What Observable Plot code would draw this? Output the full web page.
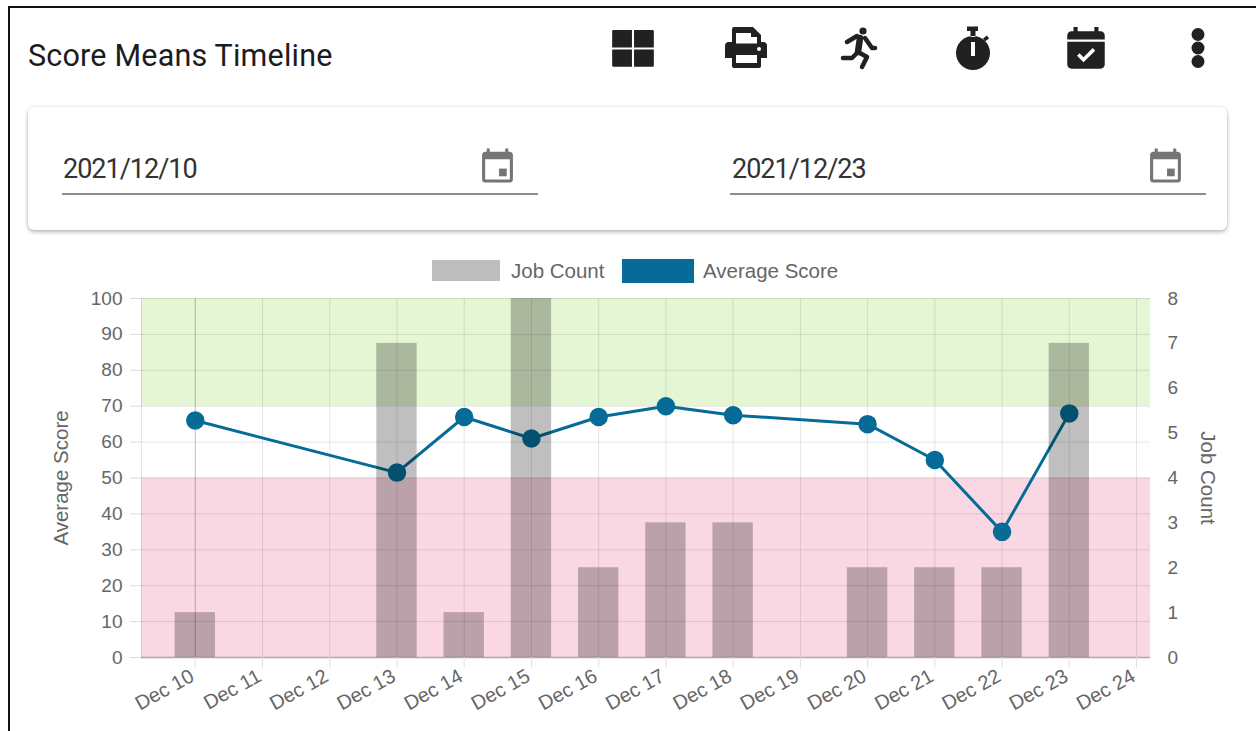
<!DOCTYPE html>
<html>
<head>
<meta charset="utf-8">
<script src="https://cdn.jsdelivr.net/npm/d3@7"></script>
<script src="https://cdn.jsdelivr.net/npm/@observablehq/plot@0.6"></script>
<style>
html,body{margin:0;padding:0;background:#fff;width:1256px;height:731px;overflow:hidden}
body{position:relative;font-family:Roboto,sans-serif;color:#1c1c1c}
#frame{position:absolute;left:8px;top:6px;right:-4px;bottom:-4px;border:2px solid #111;box-sizing:border-box}
#title{position:absolute;left:28px;top:38px;font-size:30.5px;letter-spacing:.2px;line-height:36px;white-space:nowrap}
.ico{position:absolute;display:block}
#card{position:absolute;left:28px;top:107px;width:1199px;height:123px;border-radius:6px;background:#fff;box-shadow:0 2px 4px rgba(0,0,0,.28),0 0 3px rgba(0,0,0,.08)}
.date{position:absolute;top:151px;font-size:27px;letter-spacing:-1px;line-height:36px;color:#333}
.ul{position:absolute;top:193px;height:1.5px;width:476px;background:#8d8d8d}
#legend{position:absolute;top:258px;left:0;height:26px;font:20.5px "Liberation Sans",Arial,sans-serif;color:#666}
#legend span{position:absolute;white-space:nowrap;line-height:26px}
#legend i{position:absolute;display:block}
#chart{position:absolute;left:0;top:285px}
svg text{font-family:"Liberation Sans",Arial,sans-serif}
</style>
</head>
<body>
<div id="frame"></div>
<div id="title">Score Means Timeline</div>

<svg class="ico" style="left:608px;top:23px" width="50" height="50" viewBox="0 0 24 24" fill="#212121"><path d="M2 4a.6.6 0 0 1 .6-.6H11.500V11.700H2zM12.500 3.400H21.400a.6.6 0 0 1 .6.6V11.700H12.500zM2 12.700H11.500V21H2.600a.6.6 0 0 1-.6-.6zM12.500 12.700H22V20.400a.6.6 0 0 1-.6.6H12.500z"/></svg>
<svg class="ico" style="left:721px;top:23px" width="50" height="50" viewBox="0 0 50 50" fill="#212121"><path fill-rule="evenodd" d="M13 4H32L40 12V19H42Q46 19 46 23V35H40V43Q40 45 38 45H13Q11 45 11 43V35H4V23Q4 19 8 19H11V6Q11 4 13 4ZM15 10V20.500H36V14H30V10ZM15 32V40H36V32ZM36 26a2 2 0 1 0 4 0a2 2 0 1 0-4 0Z"/></svg>
<svg class="ico" style="left:834px;top:23px" width="50" height="50" viewBox="0 0 50 50" fill="none" stroke="#212121" stroke-linecap="round" stroke-linejoin="round"><circle cx="29" cy="8" r="3.600" fill="#212121" stroke="none"/><path stroke-width="4.500" d="M13 19L23 13M31 15L38 25H41M24 29L18 35H9M24 29L33 34L28 44"/><path stroke-width="6.500" d="M26 15L24 29"/></svg>
<svg class="ico" style="left:947px;top:23px" width="50" height="50" viewBox="0 0 50 50" fill="#212121"><path fill-rule="evenodd" d="M20 3.500H31V8H28.500V14H23.500V8H20ZM9 30a17 17 0 1 0 34 0a17 17 0 1 0-34 0ZM24 19H28V33H24Z"/><path d="M37 17L41 14" stroke="#212121" stroke-width="3.500"/></svg>
<svg class="ico" style="left:1061px;top:25px" width="50" height="50" viewBox="0 0 24 24" fill="#212121"><path d="M19 3h-1V1h-2v2H8V1H6v2H5c-1.100 0-2 .9-2 2v2h18V5c0-1.100-.9-2-2-2zM3 8v11c0 1.100.9 2 2 2h14c1.100 0 2-.9 2-2V8z"/><path d="M8.300 14.200l2.500 2.500 5-5" fill="none" stroke="#fff" stroke-width="1.700"/></svg>
<svg class="ico" style="left:1173px;top:23px" width="50" height="50" viewBox="0 0 50 50" fill="#212121"><circle cx="25" cy="11.500" r="6.500"/><circle cx="25" cy="25" r="6.500"/><circle cx="25" cy="38.500" r="6.500"/></svg>

<div id="card"></div>
<div class="date" style="left:63px">2021/12/10</div>
<div class="date" style="left:732px">2021/12/23</div>
<svg class="ico" style="left:479px;top:147px" width="37" height="37" viewBox="0 0 24 24" fill="#757575"><path d="M20 3h-1V1h-2v2H7V1H5v2H4c-1.100 0-2 .9-2 2v16c0 1.100.9 2 2 2h16c1.100 0 2-.9 2-2V5c0-1.100-.9-2-2-2zm0 18H4V8h16v13z"/><path d="M13 14h5v5h-5z"/></svg>
<svg class="ico" style="left:1147px;top:147px" width="37" height="37" viewBox="0 0 24 24" fill="#757575"><path d="M20 3h-1V1h-2v2H7V1H5v2H4c-1.100 0-2 .9-2 2v16c0 1.100.9 2 2 2h16c1.100 0 2-.9 2-2V5c0-1.100-.9-2-2-2zm0 18H4V8h16v13z"/><path d="M13 14h5v5h-5z"/></svg>
<div class="ul" style="left:62px"></div>
<div class="ul" style="left:730px"></div>

<div id="legend">
  <i style="left:432px;top:2px;width:68px;height:21px;background:#bebebe"></i><span style="left:511px">Job Count</span>
  <i style="left:622px;top:1px;width:72px;height:24px;background:#066b96"></i><span style="left:703px">Average Score</span>
</div>
<div id="chart"></div>

<script>
const tickDates = ["2021-12-10","2021-12-11","2021-12-12","2021-12-13","2021-12-14","2021-12-15","2021-12-16","2021-12-17","2021-12-18","2021-12-19","2021-12-20","2021-12-21","2021-12-22","2021-12-23","2021-12-24"];
const dates = ["2021-12-10","2021-12-13","2021-12-14","2021-12-15","2021-12-16","2021-12-17","2021-12-18","2021-12-20","2021-12-21","2021-12-22","2021-12-23"];
const averageScore = [66,51.500,67,61,67,70,67.500,65,55,35,68];
const jobCount = [1,7,1,8,2,3,3,2,2,2,7];
const scoreTicks = [0,10,20,30,40,50,60,70,80,90,100];
const countTicks = [0,1,2,3,4,5,6,7,8];
const scoreBands = [
  {from:70,to:100,color:"#e4f6d3"},
  {from:0,to:50,color:"#f9d7e3"}
];

const day = 864e5;
const toDate = s => new Date(s + "T00:00:00Z");
const countToScore = c => c * 100 / 8;
const rows = dates.map((d,i) => ({date:toDate(d), score:averageScore[i], count:jobCount[i]}));
const ticks = tickDates.map(toDate);
const xDomain = [new Date(+ticks[0] - 0.8*day), new Date(+ticks[14] + 0.208*day)];
const barHalf = 0.3*day;

const plot = Plot.plot({
  width:1256, height:446,
  marginLeft:141, marginRight:106, marginTop:13, marginBottom:74,
  style:{background:"transparent",fontSize:"19px",overflow:"visible"},
  x:{type:"utc",domain:xDomain},
  y:{domain:[0,100]},
  marks:[
    Plot.rectY(scoreBands,{x1:()=>xDomain[0],x2:()=>xDomain[1],y1:"from",y2:"to",fill:"color"}),
    Plot.ruleY(scoreTicks,{stroke:"#000",strokeOpacity:0.1,strokeWidth:1}),
    Plot.ruleX(ticks,{stroke:"#000",strokeOpacity:d=>+d===+ticks[0]?0.25:0.1,strokeWidth:1}),
    Plot.ruleX([xDomain[0]],{stroke:"#000",strokeOpacity:0.1}),
    Plot.ruleY([0],{stroke:"#aaa",strokeWidth:1.500}),
    Plot.line(rows,{x:"date",y:"score",stroke:"#066b96",strokeWidth:3}),
    Plot.dot(rows,{x:"date",y:"score",r:8.500,fill:"#066b96",stroke:"#066b96"}),
    Plot.rectY(rows,{x1:d=>new Date(+d.date-barHalf),x2:d=>new Date(+d.date+barHalf),y1:0,y2:d=>countToScore(d.count),fill:"#000",fillOpacity:0.25}),
    Plot.axisX({ticks,tickSize:11,stroke:"#e0e0e0",strokeOpacity:1,fill:"none",label:null}),
    Plot.axisX({ticks,tickFormat:d3.utcFormat("%b %d"),tickRotate:-29,tickSize:0,stroke:"none",fill:"#666",fontSize:20,tickPadding:17,dx:-3,label:null}),
    Plot.axisY({ticks:scoreTicks,anchor:"left",tickSize:11,tickPadding:8,stroke:"#ddd",fill:"#666",label:null}),
    Plot.axisY({ticks:countTicks.map(countToScore),tickFormat:v=>String(v*8/100),anchor:"right",tickSize:0,tickPadding:17,fill:"#666",label:null}),
    Plot.text(["Average Score"],{frameAnchor:"left",textAnchor:"middle",rotate:-90,dx:-80,fill:"#666",fontSize:20.500}),
    Plot.text(["Job Count"],{frameAnchor:"right",textAnchor:"middle",rotate:90,dx:57,fill:"#666",fontSize:20.500})
  ]
});
document.getElementById("chart").appendChild(plot);
</script>
</body>
</html>
